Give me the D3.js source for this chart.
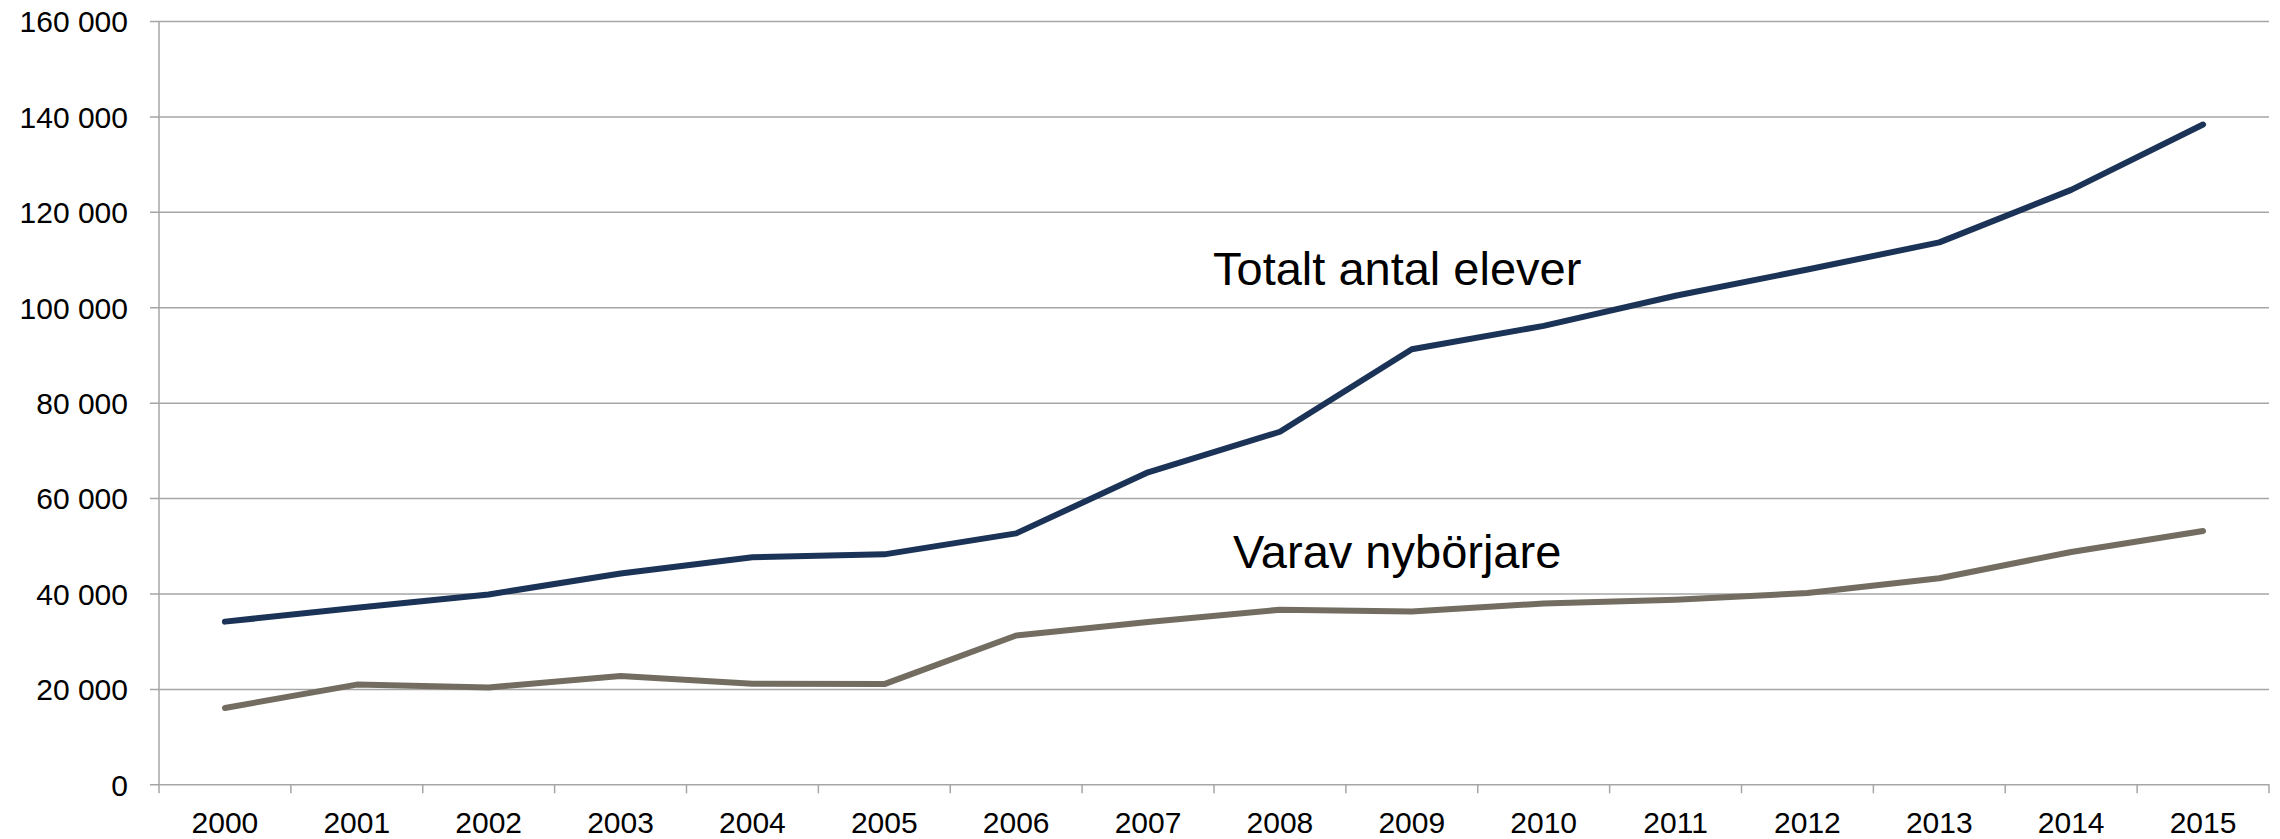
<!DOCTYPE html>
<html>
<head>
<meta charset="utf-8">
<script src="https://cdn.jsdelivr.net/npm/d3@7"></script>
<style>
  body { margin: 0; background: #fff; }
  svg { display: block; font-family: "Liberation Sans", Arial, sans-serif; }
</style>
</head>
<body>
<div id="chart"></div>
<script>
(function(d3) {
  'use strict';

  var years = ['2000', '2001', '2002', '2003', '2004', '2005', '2006', '2007',
               '2008', '2009', '2010', '2011', '2012', '2013', '2014', '2015'];
  var totalt = [34100, 37000, 39800, 44200, 47600, 48200, 52600, 65400,
                73900, 91200, 96100, 102400, 107900, 113600, 124600, 138300];
  var nyborjare = [16000, 20900, 20300, 22700, 21100, 21000, 31200, 34000,
                   36600, 36200, 37900, 38700, 40100, 43200, 48700, 53100];
  var yTicks = [0, 20000, 40000, 60000, 80000, 100000, 120000, 140000, 160000];
  var labels = [
    { text: 'Totalt antal elever', year: '2008', value: 120000 },
    { text: 'Varav nybörjare', year: '2008', value: 35000 }
  ];

  var width = 2280;
  var height = 839;
  var left = 159, right = 2269, top = 21, bottom = 784.3;

  var svg = d3.select('#chart')
    .append('svg')
    .attr('width', width)
    .attr('height', height);

  var x = d3.scaleBand()
    .domain(years)
    .range([left, right]);

  var y = d3.scaleLinear()
    .domain([0, 160000])
    .range([bottom, top]);

  var fmt = function(d) {
    return d3.format(',')(d).replace(/,/g, ' ');
  };

  // gridlines + y axis
  var yAxis = d3.axisLeft(y)
    .tickValues(yTicks)
    .tickSize(-(right - left))
    .tickFormat(fmt);

  var gy = svg.append('g')
    .attr('transform', 'translate(' + left + ',0)')
    .call(yAxis);
  gy.select('.domain').remove();
  gy.selectAll('.tick line')
    .attr('x1', -9)
    .attr('stroke', '#a6a6a6')
    .attr('stroke-width', 1.5);
  gy.selectAll('.tick text')
    .attr('x', -31)
    .attr('dy', '0.36em')
    .attr('fill', '#000')
    .style('font-size', '30px');

  svg.append('line')
    .attr('x1', left).attr('x2', left)
    .attr('y1', top).attr('y2', bottom)
    .attr('stroke', '#a6a6a6')
    .attr('stroke-width', 1.5);

  // x axis: labels centred, ticks at band edges
  var xAxis = d3.axisBottom(x).tickSize(0);
  var gx = svg.append('g')
    .attr('transform', 'translate(0,' + bottom + ')')
    .call(xAxis);
  gx.select('.domain').remove();
  gx.selectAll('.tick text')
    .attr('y', 0)
    .attr('dy', 49)
    .attr('fill', '#000')
    .style('font-size', '30px');

  svg.append('g')
    .selectAll('line')
    .data(years.concat(['end']))
    .enter()
    .append('line')
    .attr('x1', function(d) { return d === 'end' ? x.range()[1] : x(d); })
    .attr('x2', function(d) { return d === 'end' ? x.range()[1] : x(d); })
    .attr('y1', bottom)
    .attr('y2', bottom + 9)
    .attr('stroke', '#a6a6a6')
    .attr('stroke-width', 1.5);

  var line = d3.line()
    .x(function(d, i) { return x(years[i]) + x.bandwidth() / 2; })
    .y(function(d) { return y(d); });

  var series = [
    { values: nyborjare, color: '#736c60' },
    { values: totalt, color: '#1b3356' }
  ];

  svg.selectAll('path.serie')
    .data(series)
    .enter()
    .append('path')
    .attr('class', 'serie')
    .attr('d', function(d) { return line(d.values); })
    .attr('fill', 'none')
    .attr('stroke', function(d) { return d.color; })
    .attr('stroke-width', 6)
    .attr('stroke-linecap', 'round')
    .attr('stroke-linejoin', 'round');

  // series labels
  svg.selectAll('text.lbl')
    .data(labels)
    .enter()
    .append('text')
    .attr('class', 'lbl')
    .attr('x', function(d, i) { return i === 0 ? 1213 : 1233; })
    .attr('y', function(d, i) { return i === 0 ? 285 : 568; })
    .attr('fill', '#000')
    .style('font-size', '47px')
    .text(function(d) { return d.text; });

})(window.d3);
</script>
</body>
</html>
